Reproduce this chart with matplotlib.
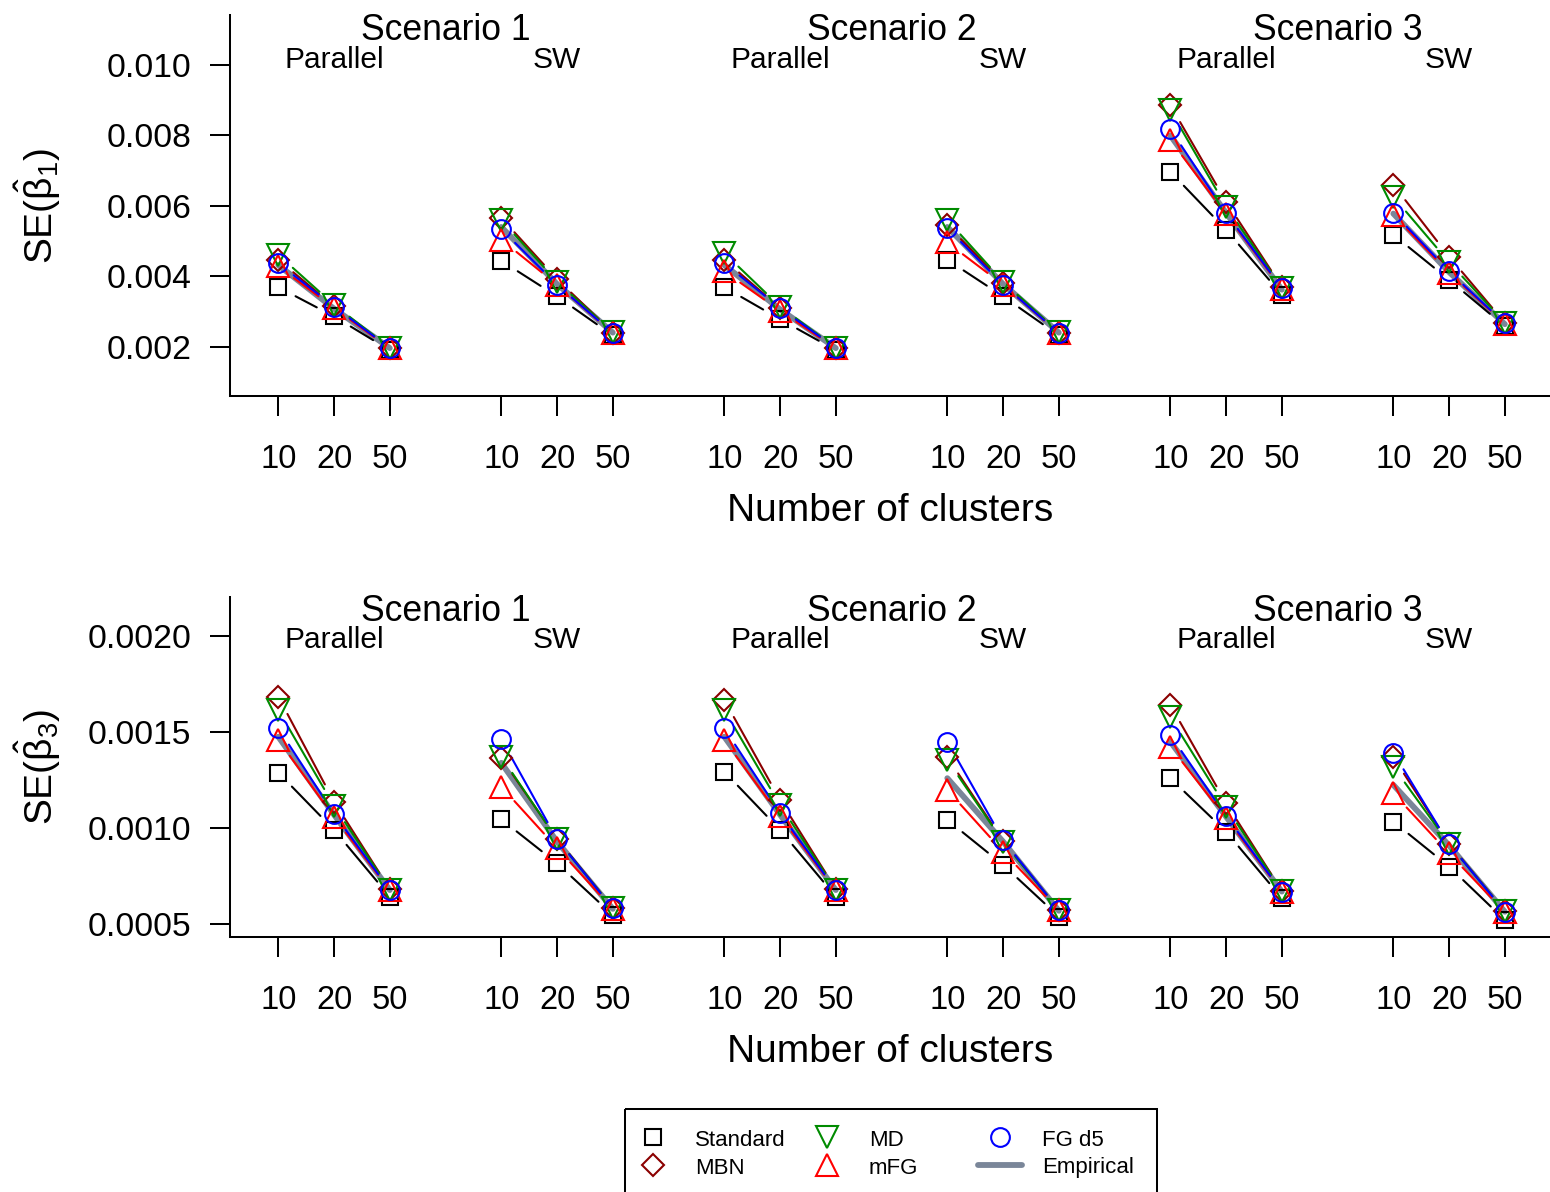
import numpy as np
import matplotlib
matplotlib.use("Agg")
import matplotlib.pyplot as plt
from matplotlib.ticker import FormatStrFormatter
from matplotlib.patches import Rectangle

plt.rcParams['font.family'] = ['Liberation Sans', 'DejaVu Sans']
plt.rcParams['mathtext.fontset'] = 'custom'
plt.rcParams['mathtext.rm'] = 'Liberation Sans'
plt.rcParams['mathtext.it'] = 'Liberation Sans'
plt.rcParams['mathtext.bf'] = 'Liberation Sans:bold'

# groups: S1 Parallel, S1 SW, S2 Parallel, S2 SW, S3 Parallel, S3 SW ; 10/20/50 clusters each
scenarios = ["Scenario 1", "Scenario 2", "Scenario 3"]
designs = ["Parallel", "SW"]
clusters = ["10", "20", "50"]

# SE(beta1)
standard_b1 = [0.00369, 0.00286, 0.00190, 0.00444, 0.00343, 0.00232,
               0.00369, 0.00278, 0.00190, 0.00447, 0.00343, 0.00232,
               0.00697, 0.00532, 0.00348, 0.00518, 0.00390, 0.00258]
mbn_b1 = [0.00447, 0.00315, 0.00196, 0.00566, 0.00392, 0.00240,
          0.00447, 0.00310, 0.00196, 0.00545, 0.00382, 0.00240,
          0.00886, 0.00612, 0.00370, 0.00660, 0.00456, 0.00268]
md_b1 = [0.00461, 0.00319, 0.00197, 0.00560, 0.00385, 0.00241,
         0.00466, 0.00314, 0.00197, 0.00560, 0.00385, 0.00241,
         0.00872, 0.00598, 0.00368, 0.00626, 0.00440, 0.00268]
mfg_b1 = [0.00428, 0.00310, 0.00195, 0.00504, 0.00376, 0.00238,
          0.00414, 0.00302, 0.00195, 0.00496, 0.00376, 0.00238,
          0.00787, 0.00576, 0.00365, 0.00574, 0.00410, 0.00265]
fgd5_b1 = [0.00437, 0.00314, 0.00196, 0.00534, 0.00376, 0.00239,
           0.00437, 0.00310, 0.00196, 0.00537, 0.00376, 0.00239,
           0.00818, 0.00579, 0.00367, 0.00581, 0.00414, 0.00266]
emp_b1 = [0.00432, 0.00308, 0.00196, 0.00540, 0.00378, 0.00240,
          0.00432, 0.00306, 0.00196, 0.00540, 0.00378, 0.00240,
          0.00800, 0.00580, 0.00362, 0.00578, 0.00412, 0.00264]

# SE(beta3)
standard_b3 = [0.001289, 0.000991, 0.000644, 0.001046, 0.000817, 0.000548,
               0.001294, 0.000991, 0.000644, 0.001043, 0.000809, 0.000540,
               0.001260, 0.000982, 0.000636, 0.001034, 0.000800, 0.000522]
mbn_b3 = [0.001684, 0.001138, 0.000682, 0.001365, 0.000945, 0.000585,
          0.001667, 0.001147, 0.000682, 0.001369, 0.000935, 0.000576,
          0.001641, 0.001130, 0.000674, 0.001369, 0.000920, 0.000568]
md_b3 = [0.001615, 0.001116, 0.000680, 0.001372, 0.000942, 0.000584,
         0.001615, 0.001120, 0.000680, 0.001355, 0.000930, 0.000575,
         0.001577, 0.001110, 0.000672, 0.001320, 0.000918, 0.000567]
mfg_b3 = [0.001459, 0.001058, 0.000676, 0.001216, 0.000897, 0.000580,
          0.001459, 0.001063, 0.000676, 0.001199, 0.000878, 0.000572,
          0.001424, 0.001053, 0.000668, 0.001182, 0.000869, 0.000564]
fgd5_b3 = [0.001520, 0.001074, 0.000678, 0.001463, 0.000942, 0.000583,
           0.001520, 0.001078, 0.000678, 0.001450, 0.000939, 0.000574,
           0.001485, 0.001063, 0.000670, 0.001393, 0.000918, 0.000566]
emp_b3 = [0.001476, 0.001070, 0.000678, 0.001340, 0.000930, 0.000580,
          0.001476, 0.001070, 0.000678, 0.001260, 0.000930, 0.000570,
          0.001450, 0.001060, 0.000670, 0.001225, 0.000910, 0.000565]

methods = ["Standard", "MBN", "MD", "mFG", "FG d5"]
colors = ["black", "#8B0000", "#008B00", "#FF0000", "#0000FF"]
markers = ["s", "D", "v", "^", "o"]
msizes = [11.5, 11.0, 15.5, 15.5, 13.5]
emp_color = "#7A8699"

W, H = 1550, 1192
fig = plt.figure(figsize=(W / 100, H / 100), dpi=100)

xpos = np.array([g * 4 + k + 1 for g in range(6) for k in range(3)], dtype=float)
GAP = 19.5  # px gap around points (type="b")


def px_axes(left, top, right, bottom):
    return [left / W, 1 - bottom / H, (right - left) / W, (bottom - top) / H]


def gapped_lines(ax, x, y, color, lw=1.5):
    pts = ax.transData.transform(np.column_stack([x, y]))
    inv = ax.transData.inverted()
    for g in range(0, len(x), 3):
        for k in range(2):
            p0, p1 = pts[g + k], pts[g + k + 1]
            d = p1 - p0
            L = np.hypot(*d)
            if L <= 2 * GAP:
                continue
            u = d / L
            seg = inv.transform(np.vstack([p0 + u * GAP, p1 - u * GAP]))
            ax.plot(seg[:, 0], seg[:, 1], color=color, lw=lw,
                    solid_capstyle='round', zorder=3)


def panel(ax, series, emp, ylim, yticks, yfmt, ylabel, txt_y):
    ax.set_xlim(0.125, 23.81)
    ax.set_ylim(*ylim)
    # empirical: thick grey line within each group
    for g in range(0, 18, 3):
        ax.plot(xpos[g:g + 3], emp[g:g + 3], color=emp_color, lw=4.2,
                solid_capstyle='round', zorder=2)
    for vals, c, m, ms in zip(series, colors, markers, msizes):
        gapped_lines(ax, xpos, vals, c)
        ax.plot(xpos, vals, ls='none', marker=m, ms=ms, mfc='none', mec=c,
                mew=1.5, zorder=4)
    for sp in ['top', 'right']:
        ax.spines[sp].set_visible(False)
    for sp in ['left', 'bottom']:
        ax.spines[sp].set_linewidth(1.45)
    ax.set_xticks(xpos)
    ax.set_xticklabels(clusters * 6)
    ax.set_yticks(yticks)
    ax.yaxis.set_major_formatter(FormatStrFormatter(yfmt))
    ax.tick_params(axis='both', direction='out', length=14.5, width=1.45,
                   labelsize=23.5)
    ax.tick_params(axis='y', labelsize=24.2, pad=13)
    ax.tick_params(axis='x', pad=20)
    ax.set_xlabel("Number of clusters", fontsize=28, labelpad=13)
    ax.set_ylabel(ylabel, fontsize=28)
    ax.yaxis.set_label_coords(-0.126, 0.5)
    tr = ax.get_xaxis_transform()
    for i, s in enumerate(scenarios):
        ax.text(4 + 8 * i, txt_y[0], s, transform=tr, ha='center',
                va='baseline', fontsize=25.6)
        for j, d in enumerate(designs):
            ax.text(2 + 8 * i + 4 * j, txt_y[1], d, transform=tr,
                    ha='center', va='baseline', fontsize=21.5)


ax1 = fig.add_axes(px_axes(229.5, 15, 1550, 396))
ax2 = fig.add_axes(px_axes(229.5, 597, 1550, 937.3))

panel(ax1, [standard_b1, mbn_b1, md_b1, mfg_b1, fgd5_b1], emp_b1,
      (0.000600, 0.011420), [0.002, 0.004, 0.006, 0.008, 0.010], '%.3f',
      r'SE($\hat{\beta}_1$)', (0.9344, 0.8601))
panel(ax2, [standard_b3, mbn_b3, md_b3, mfg_b3, fgd5_b3], emp_b3,
      (0.000432, 0.002203), [0.0005, 0.0010, 0.0015, 0.0020], '%.4f',
      r'SE($\hat{\beta}_3$)', (0.9304, 0.8493))

# legend box (drawn in pixel space, bottom runs off the figure)
lg = fig.add_axes([0, 0, 1, 1], facecolor='none')
lg.set_xlim(0, W)
lg.set_ylim(H, 0)
lg.axis('off')
lg.add_patch(Rectangle((625, 1108.5), 532, 100, fill=False, ec='black',
                       lw=1.45))
leg_x = [653, 653, 827, 827, 1000]
leg_y = [1137, 1165, 1137, 1165, 1137]
txt_x = [695, 695, 869, 869, 1042]
for name, c, m, ms, x, y, tx in zip(methods, colors, markers, msizes,
                                    leg_x, leg_y, txt_x):
    lg.plot([x], [y], ls='none', marker=m, ms=ms, mfc='none', mec=c, mew=1.5)
    lg.text(tx, y + 3, name, fontsize=16, va='center', ha='left')
lg.plot([978, 1022], [1165, 1165], color=emp_color, lw=4.2,
        solid_capstyle='round')
lg.text(1042, 1168, "Empirical", fontsize=16, va='center', ha='left')

fig.savefig("out.png", dpi=100)
